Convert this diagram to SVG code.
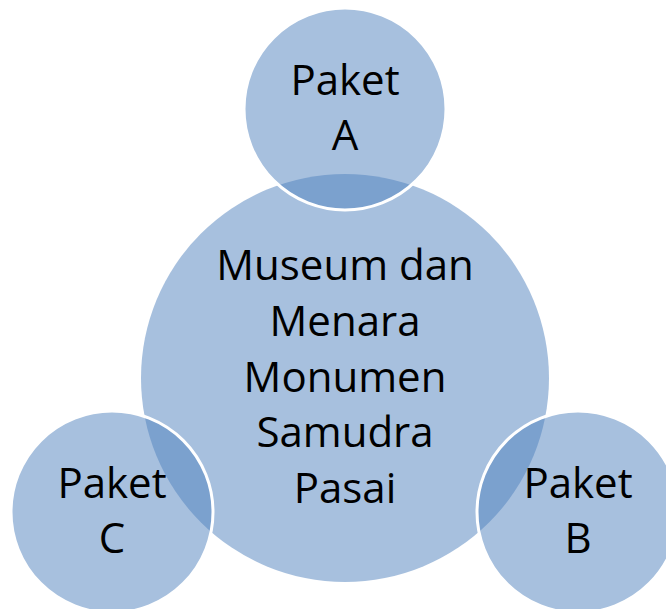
<svg xmlns="http://www.w3.org/2000/svg" width="666" height="609" viewBox="0 0 666 609">
<style>
.c{fill:#4F81BD;fill-opacity:0.5;stroke:#FFFFFF;stroke-width:3}
.b{fill:#4F81BD;fill-opacity:0.5;stroke:none}
.t{font-family:"Open Sans","Noto Sans","Liberation Sans",sans-serif;font-size:42px;fill:#000000;text-anchor:middle}
</style>
<rect width="666" height="609" fill="#FFFFFF"/>
<g id="center">
<circle class="b" cx="345" cy="378" r="204"/>
<text class="t" x="345" y="280">Museum dan</text>
<text class="t" x="345" y="336">Menara</text>
<text class="t" x="345" y="392">Monumen</text>
<text class="t" x="345" y="447">Samudra</text>
<text class="t" x="345" y="503">Pasai</text>
</g>
<g id="connectors"></g>
<g id="paketA">
<circle class="c" cx="345" cy="109" r="101"/>
<text class="t" x="345" y="95">Paket</text>
<text class="t" x="345" y="150">A</text>
</g>
<g id="paketB">
<circle class="c" cx="578" cy="512" r="101"/>
<text class="t" x="578" y="498">Paket</text>
<text class="t" x="578" y="553">B</text>
</g>
<g id="paketC">
<circle class="c" cx="112" cy="512" r="101"/>
<text class="t" x="112" y="498">Paket</text>
<text class="t" x="112" y="553">C</text>
</g>
</svg>
